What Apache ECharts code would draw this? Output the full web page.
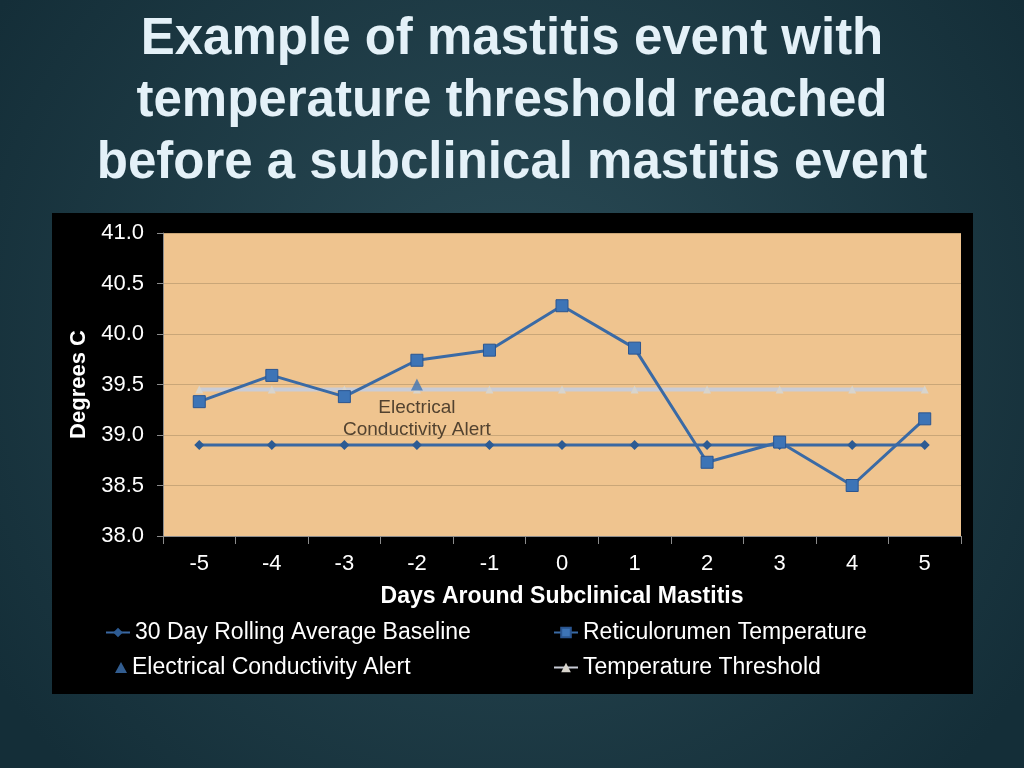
<!DOCTYPE html>
<html><head><meta charset="utf-8">
<script src="https://cdn.jsdelivr.net/npm/echarts@6/dist/echarts.min.js"></script>
<style>html,body{margin:0;padding:0;background:#1e3a44;}#c{width:1024px;height:768px;}</style>
</head><body><div id="c"></div>
<script>
const days = ['-5','-4','-3','-2','-1','0','1','2','3','4','5'];
const baseline = [38.9,38.9,38.9,38.9,38.9,38.9,38.9,38.9,38.9,38.9,38.9];
const retTemp = [39.33,39.59,39.38,39.74,39.84,40.28,39.86,38.73,38.93,38.50,39.16];
const ecAlert = [null,null,null,39.5,null,null,null,null,null,null,null];
const threshold = [39.45,39.45,39.45,39.45,39.45,39.45,39.45,39.45,39.45,39.45,39.45];
const names = ['30 Day Rolling Average Baseline','Reticulorumen Temperature','Electrical Conductivity Alert','Temperature Threshold'];

const chart = echarts.init(document.getElementById('c'));
const FF = 'Liberation Sans, Arial, sans-serif';
const legendBase = {orient:'horizontal', itemWidth:24, itemHeight:12, itemGap:1,
  textStyle:{color:'#ffffff', fontSize:23, fontFamily:FF}};
chart.setOption({
  backgroundColor: {type:'radial', x:0.5, y:0.45, r:0.8, colorStops:[{offset:0,color:'#2b4c57'},{offset:1,color:'#142e38'}]},
  title: {text:'Example of mastitis event with\ntemperature threshold reached\nbefore a subclinical mastitis event',
    left:'center', top:4,
    textStyle:{color:'#e4f1f8', fontSize:51, fontWeight:'bold', lineHeight:62, fontFamily:FF}},
  graphic: [{type:'rect', shape:{x:52,y:213,width:921,height:481}, style:{fill:'#000000'}, z:-10}],
  legend: [
    Object.assign({left:100, top:616, data:[names[0]]}, legendBase),
    Object.assign({left:548, top:616, data:[names[1]]}, legendBase),
    Object.assign({}, legendBase, {left:110, top:651, itemWidth:12, itemHeight:11, itemGap:6, data:[names[2]]}),
    Object.assign({left:548, top:651, data:[names[3]]}, legendBase)
  ],
  grid: {left:163, top:233, width:798, height:303, show:true, backgroundColor:'#efc48f', borderWidth:0},
  xAxis: {type:'category', data:days, boundaryGap:true,
    axisLine:{show:true, lineStyle:{color:'#8c8c8c'}},
    axisTick:{show:true, length:8, lineStyle:{color:'#8c8c8c'}},
    axisLabel:{color:'#ffffff', fontSize:22, margin:17, fontFamily:FF},
    name:'Days Around Subclinical Mastitis', nameLocation:'middle', nameGap:49,
    nameTextStyle:{color:'#ffffff', fontSize:23, fontWeight:'bold', fontFamily:FF}},
  yAxis: {type:'value', min:38, max:41, interval:0.5,
    axisLine:{show:true, lineStyle:{color:'#8c8c8c'}},
    axisTick:{show:true, length:6, lineStyle:{color:'#8c8c8c'}},
    splitLine:{show:true, lineStyle:{color:'#c9a678', width:1}},
    axisLabel:{color:'#ffffff', fontSize:22, margin:19, fontFamily:FF, formatter:v=>v.toFixed(1)},
    name:'Degrees C', nameLocation:'middle', nameGap:71,
    nameTextStyle:{color:'#ffffff', fontSize:22, fontWeight:'bold', fontFamily:FF}},
  series: [
    {name:names[3], type:'line', data:threshold, symbol:'triangle', symbolSize:8,
      itemStyle:{color:'#d8d4cc'}, lineStyle:{color:'#c9ccd6', width:4}, z:2},
    {name:names[0], type:'line', data:baseline, symbol:'diamond', symbolSize:10,
      itemStyle:{color:'#2d5b93'}, lineStyle:{color:'#3a68a2', width:3}, z:3},
    {name:names[2], type:'scatter', data:ecAlert, symbol:'triangle', symbolSize:12,
      itemStyle:{color:'#3f74b4'}, z:4,
      label:{show:true, position:'bottom', distance:6, formatter:'Electrical\nConductivity Alert',
        color:'#2b2218', fontSize:19, lineHeight:22, fontFamily:FF}},
    {name:names[1], type:'line', data:retTemp, symbol:'rect', symbolSize:12,
      itemStyle:{color:'#3d74b6', borderColor:'#2a5590', borderWidth:1},
      lineStyle:{color:'#3a6aa5', width:3}, z:5}
  ]
});
</script></body></html>
